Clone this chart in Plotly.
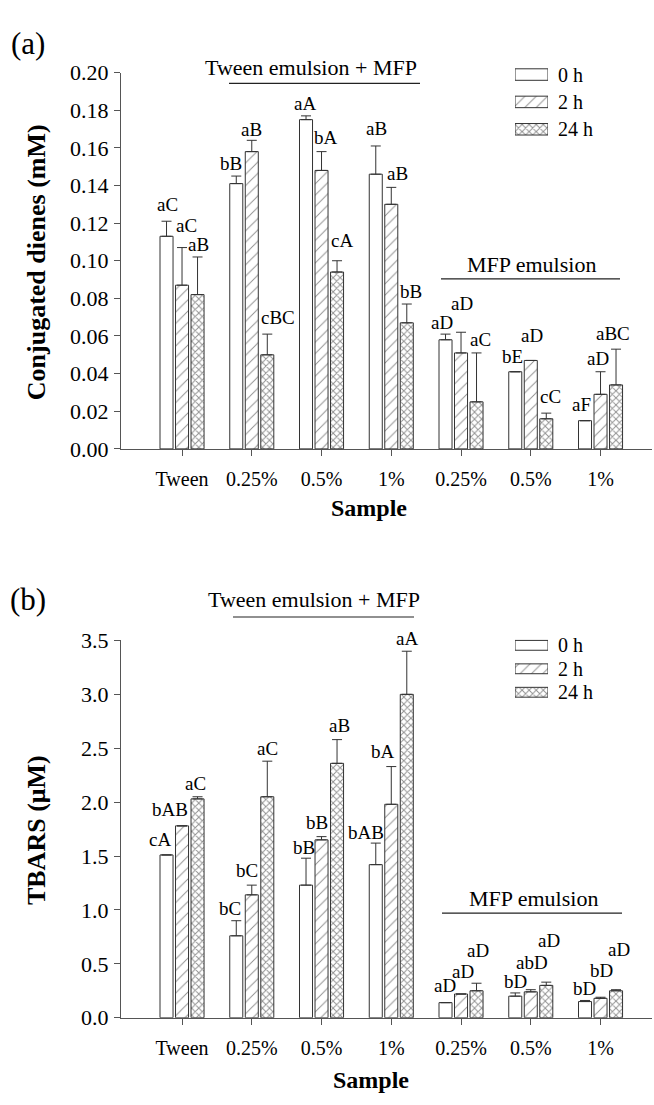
import plotly.graph_objects as go

# ---------------- data ----------------
samples = ["Tween", "0.25%", "0.5%", "1%", "0.25%", "0.5%", "1%"]
times = ["0 h", "2 h", "24 h"]

# (a) conjugated dienes, mM
cd_0h = [0.113, 0.141, 0.175, 0.146, 0.058, 0.041, 0.015]
cd_2h = [0.087, 0.158, 0.148, 0.130, 0.051, 0.047, 0.029]
cd_24h = [0.082, 0.050, 0.094, 0.067, 0.025, 0.016, 0.034]
cd_0h_sd = [0.008, 0.004, 0.002, 0.015, 0.003, 0.000, 0.000]
cd_2h_sd = [0.020, 0.006, 0.010, 0.009, 0.011, 0.000, 0.012]
cd_24h_sd = [0.020, 0.011, 0.006, 0.010, 0.026, 0.003, 0.019]
cd_0h_lab = ["aC", "bB", "aA", "aB", "aD", "bE", "aF"]
cd_2h_lab = ["aC", "aB", "bA", "aB", "aD", "aD", "aD"]
cd_24h_lab = ["aB", "cBC", "cA", "bB", "aC", "cC", "aBC"]

# (b) TBARS, uM
tb_0h = [1.51, 0.76, 1.23, 1.42, 0.14, 0.20, 0.15]
tb_2h = [1.78, 1.14, 1.65, 1.98, 0.22, 0.24, 0.18]
tb_24h = [2.03, 2.05, 2.36, 3.00, 0.25, 0.30, 0.25]
tb_0h_sd = [0.00, 0.14, 0.25, 0.20, 0.00, 0.03, 0.01]
tb_2h_sd = [0.00, 0.09, 0.03, 0.35, 0.00, 0.02, 0.01]
tb_24h_sd = [0.02, 0.33, 0.22, 0.40, 0.07, 0.03, 0.01]
tb_0h_lab = ["cA", "bC", "bB", "bAB", "aD", "bD", "bD"]
tb_2h_lab = ["bAB", "bC", "bB", "bA", "aD", "abD", "bD"]
tb_24h_lab = ["aC", "aC", "aB", "aA", "aD", "aD", "aD"]

# ---------------- label nudges (px) ----------------
a_dx = [[0.8, -5.5, -1, 0.3, -3.8, -3, -4],
        [4.7, 0, 4.5, 5.8, 0.7, 1, -2.2],
        [0.8, 11, 4.7, 4, 3.5, 3.8, -2.7]]
a_dy = [[17, 13, 12, 17, 12, 15, 16],
        [22, 11, 14, 14, 29, 25, 13],
        [12, 17, 20, 13, 13, 17, 16]]
b_dx = [[-6.5, -6.2, -2, -10, -0.5, 0, -1],
        [-12, -4.5, -4.8, -8.2, 1.7, 1, 0.5],
        [-2.2, 0.5, 2.3, 0, 1.8, 3, 3.3]]
b_dy = [[15, 12, 11, 11, 17, 11, 12],
        [16, 15, 14, 15, 23, 27, 27],
        [13, 13, 14, 13, 33, 42, 40]]

# ---------------- styling ----------------
FONT = "Liberation Serif, Times New Roman, Tinos, DejaVu Serif, serif"
EDGE = "#333333"
AX = "#555555"
W, H = 654, 1105
BARGAP, GROUPGAP = 0.333, 0.16
SLOT = (1 - BARGAP) / 3
patterns = [dict(shape=""),
            dict(shape="/", size=8, solidity=0.12, fgcolor="#222", bgcolor="white"),
            dict(shape="x", size=5, solidity=0.35, fgcolor="#222", bgcolor="white")]


def px_x(p):
    return p / W


def px_y(p):
    return 1 - p / H


fig = go.Figure()
annotations = []
idx = list(range(len(samples)))

panels = [
    ("x", "y", [cd_0h, cd_2h, cd_24h], [cd_0h_sd, cd_2h_sd, cd_24h_sd],
     [cd_0h_lab, cd_2h_lab, cd_24h_lab], a_dx, a_dy),
    ("x2", "y2", [tb_0h, tb_2h, tb_24h], [tb_0h_sd, tb_2h_sd, tb_24h_sd],
     [tb_0h_lab, tb_2h_lab, tb_24h_lab], b_dx, b_dy),
]

for xa, ya, series, sds, labs, dxs, dys in panels:
    for k in range(3):
        fig.add_trace(go.Bar(
            x=idx, y=series[k], xaxis=xa, yaxis=ya, name=times[k],
            offsetgroup=str(k), showlegend=False,
            marker=dict(color="white", line=dict(color=EDGE, width=1),
                        pattern=patterns[k]),
            error_y=dict(type="data", symmetric=False, array=sds[k],
                         arrayminus=[0] * len(idx), color=EDGE,
                         thickness=1, width=5),
        ))
        for i in idx:
            annotations.append(dict(
                x=i + (k - 1) * SLOT, y=series[k][i] + sds[k][i],
                xref=xa, yref=ya, text=labs[k][i], showarrow=False,
                xanchor="center", yanchor="middle",
                xshift=dxs[k][i], yshift=dys[k][i],
                font=dict(family=FONT, size=19, color="black")))

# legend keys: short horizontal bars on small helper axes, text beside them
LEG_X0, LEG_X1 = 515, 548
legend_boxes = [("x3", "y3", 50, 134), ("x4", "y4", 636, 708)]
for xa, ya, top, bottom in legend_boxes:
    fig.add_trace(go.Bar(
        y=times, x=[1, 1, 1], orientation="h", xaxis=xa, yaxis=ya,
        width=0.42, showlegend=False, hoverinfo="skip",
        marker=dict(color="white", line=dict(color=EDGE, width=1),
                    pattern=dict(shape=["", "/", "x"], size=[8, 8, 5],
                                 solidity=[0.12, 0.12, 0.35],
                                 fgcolor="#222", bgcolor="white")),
    ))
    step = (bottom - top) / 3
    for j, t in enumerate(times):
        annotations.append(dict(
            x=(LEG_X1 + 8) / W, y=px_y(top + step * (j + 0.5)),
            xref="paper", yref="paper", text=t, showarrow=False,
            xanchor="left", yanchor="middle",
            font=dict(family=FONT, size=20, color="black")))

x_dom = [px_x(121), px_x(652)]
x_rng = [-0.875, 6.738]
common_x = dict(range=x_rng, tickmode="array", tickvals=idx, ticktext=samples,
                ticks="outside", ticklen=6, tickcolor=AX, showline=True,
                linecolor=AX, linewidth=1, showgrid=False, zeroline=False,
                tickfont=dict(family=FONT, size=20, color="black"),
                ticklabelstandoff=6, domain=x_dom)
common_y = dict(ticks="outside", ticklen=6, tickcolor=AX, showline=True,
                linecolor=AX, linewidth=1, showgrid=False, zeroline=False,
                tickfont=dict(family=FONT, size=22, color="black"),
                ticklabelstandoff=1)

fig.update_layout(
    xaxis=dict(common_x, anchor="y"),
    yaxis=dict(common_y, anchor="x", range=[0, 0.2], dtick=0.02,
               tickformat=".2f", domain=[px_y(447), px_y(62)]),
    xaxis2=dict(common_x, anchor="y2"),
    yaxis2=dict(common_y, anchor="x2", range=[0, 3.5], dtick=0.5,
                tickformat=".1f", domain=[px_y(1029), px_y(643)]),
)

leg_x = dict(range=[0, 1], visible=False, fixedrange=True)
leg_y = dict(visible=False, autorange="reversed", fixedrange=True)
fig.update_layout(
    xaxis3=dict(leg_x, domain=[px_x(LEG_X0), px_x(LEG_X1)], anchor="y3"),
    yaxis3=dict(leg_y, domain=[px_y(134), px_y(50)], anchor="x3"),
    xaxis4=dict(leg_x, domain=[px_x(LEG_X0), px_x(LEG_X1)], anchor="y4"),
    yaxis4=dict(leg_y, domain=[px_y(708), px_y(636)], anchor="x4"),
)


# panel letters, axis titles, group headings
def paper_text(text, x, y, size, bold=False, angle=0):
    annotations.append(dict(
        x=px_x(x), y=px_y(y), xref="paper", yref="paper",
        text=f"<b>{text}</b>" if bold else text, showarrow=False,
        xanchor="center", yanchor="middle", textangle=angle,
        font=dict(family=FONT, size=size, color="black")))


paper_text("(a)", 28, 32, 31)
paper_text("(b)", 28, 601, 31)
paper_text("Conjugated dienes (mM)", 36, 256, 26, bold=True, angle=-90)
paper_text("TBARS (\u03bcM)", 36, 837, 26, bold=True, angle=-90)
paper_text("Sample", 369, 507, 24, bold=True)
paper_text("Sample", 371, 1093, 24, bold=True)
paper_text("Tween emulsion + MFP", 311, 57, 22)
paper_text("MFP emulsion", 531, 258, 22)
paper_text("Tween emulsion + MFP", 314, 601, 22)
paper_text("MFP emulsion", 533, 907, 22)

shapes = []
for x0, x1, y in [(229, 420, 73), (441, 620, 273), (233, 414, 619), (442, 622, 922)]:
    shapes.append(dict(type="line", xref="paper", yref="paper",
                       x0=px_x(x0), x1=px_x(x1), y0=px_y(y), y1=px_y(y),
                       line=dict(color="#222", width=1.2)))

fig.update_layout(
    width=W, height=H, margin=dict(l=0, r=0, t=0, b=0),
    paper_bgcolor="white", plot_bgcolor="white",
    barmode="group", bargap=BARGAP, bargroupgap=GROUPGAP,
    showlegend=False, annotations=annotations, shapes=shapes,
    font=dict(family=FONT, color="black"),
)

fig.write_html("out.html")
